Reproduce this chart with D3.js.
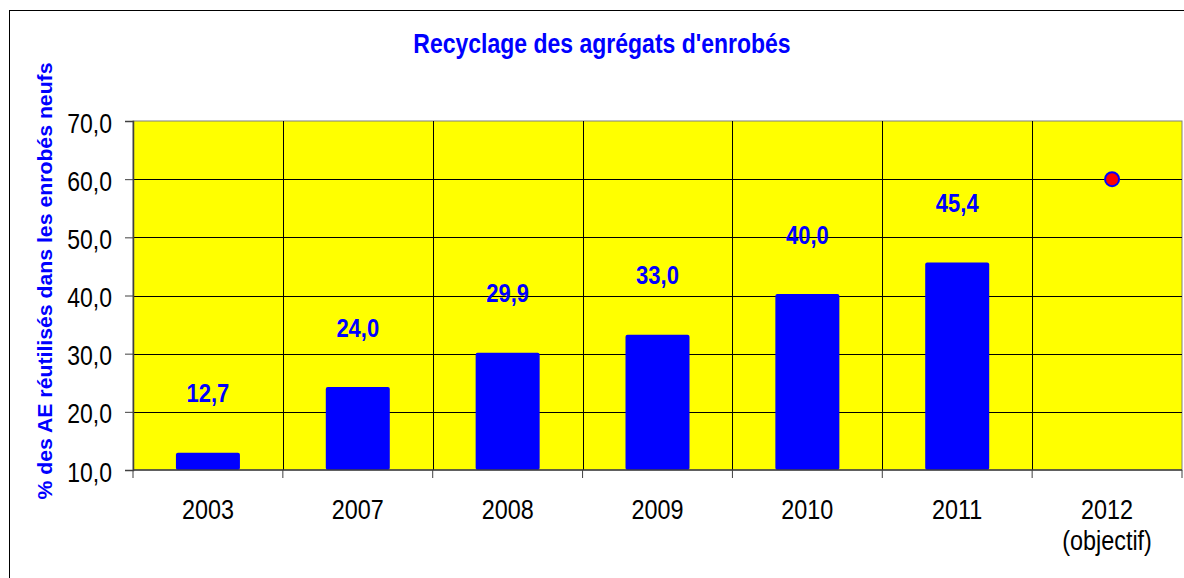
<!DOCTYPE html>
<html>
<head>
<meta charset="utf-8">
<script src="https://cdn.jsdelivr.net/npm/d3@7"></script>
<style>
  body { margin: 0; background: #fff; }
  svg { display: block; font-family: "Liberation Sans", Arial, sans-serif; }
</style>
</head>
<body>
<div id="graph"></div>
<script>
// data
const years = ["2003", "2007", "2008", "2009", "2010", "2011", "2012"];
const subLabels = ["", "", "", "", "", "", "(objectif)"];
const barValues = [12.7, 24.0, 29.9, 33.0, 40.0, 45.4, null];
const targetValue = 60.0;
const yTicks = [10, 20, 30, 40, 50, 60, 70];

const W = 1184, H = 578;
const margin = { top: 121, right: 2, bottom: 108, left: 133 };
const width = W - margin.left - margin.right,
      height = H - margin.top - margin.bottom;

const blue = "#0000ff";
const stretch = 1.2; // the source text looks taller than it is wide
const fmt = v => d3.format(".1f")(v).replace(".", ",");

const svg = d3.select("#graph").append("svg")
    .attr("width", W)
    .attr("height", H);

// outer frame
svg.append("rect")
    .attr("x", 9.5).attr("y", 10.5)
    .attr("width", W).attr("height", H)
    .attr("fill", "none").attr("stroke", "#000");

const x = d3.scaleBand()
    .domain(years)
    .range([0, width]);

const y = d3.scaleLinear()
    .domain([10, 70])
    .range([height, 0]);

const g = svg.append("g")
    .attr("transform", `translate(${margin.left},${margin.top})`);

g.append("rect")
    .attr("width", width).attr("height", height)
    .attr("fill", "#ffff00")
    .attr("stroke", "#808080");

// horizontal grid
g.append("g")
  .selectAll("line")
  .data(yTicks.slice(1, -1))
  .join("line")
    .attr("x1", 0).attr("x2", width)
    .attr("y1", d => Math.round(y(d)) + 0.5)
    .attr("y2", d => Math.round(y(d)) + 0.5)
    .attr("stroke", "#000");

// vertical grid at category boundaries
g.append("g")
  .selectAll("line")
  .data(years.slice(1))
  .join("line")
    .attr("x1", d => Math.round(x(d)) + 0.5)
    .attr("x2", d => Math.round(x(d)) + 0.5)
    .attr("y1", 0).attr("y2", height)
    .attr("stroke", "#000");

// bars
const barW = 64;
const barData = years.map((d, i) => ({ year: d, value: barValues[i] })).filter(d => d.value != null);

g.append("g")
  .selectAll("rect")
  .data(barData)
  .join("rect")
    .attr("x", d => x(d.year) + x.bandwidth() / 2 - barW / 2)
    .attr("y", d => y(d.value) - 1.5)
    .attr("width", barW)
    .attr("height", d => height - y(d.value) + 1.5)
    .attr("rx", 2)
    .attr("fill", blue);

g.append("g")
  .selectAll("text")
  .data(barData)
  .join("text")
    .attr("transform", d => `translate(${x(d.year) + x.bandwidth() / 2},${y(d.value) - 52}) scale(1,${stretch})`)
    .attr("text-anchor", "middle")
    .attr("fill", blue)
    .style("font-size", "22px")
    .style("font-weight", "bold")
    .text(d => fmt(d.value));

// target point
g.append("circle")
    .attr("cx", x("2012") + x.bandwidth() / 2 + 5)
    .attr("cy", y(targetValue))
    .attr("r", 7)
    .attr("fill", "#ff0000")
    .attr("stroke", blue)
    .attr("stroke-width", 2);

// y axis
const yAxis = g.append("g")
    .call(d3.axisLeft(y).tickValues(yTicks).tickFormat(fmt).tickSize(8).tickPadding(13));
yAxis.select(".domain").attr("stroke", "#404040").attr("stroke-width", 1.5);
yAxis.selectAll(".tick line").attr("stroke", "#404040");
yAxis.selectAll("text")
    .attr("dy", "0.4em")
    .attr("transform", `scale(1,${stretch})`)
    .style("font-size", "23px")
    .style("font-family", "'Liberation Sans', Arial, sans-serif")
    .attr("fill", "#000");

// x axis: ticks at band boundaries
const xAxis = g.append("g")
    .attr("transform", `translate(0,${height})`);
xAxis.append("line")
    .attr("x1", 0).attr("x2", width)
    .attr("stroke", "#404040").attr("stroke-width", 1.5);
xAxis.selectAll(".tk")
  .data(years.concat(["end"]))
  .join("line")
    .attr("class", "tk")
    .attr("x1", d => d === "end" ? width : x(d))
    .attr("x2", d => d === "end" ? width : x(d))
    .attr("y1", 0).attr("y2", 8)
    .attr("stroke", "#404040");

xAxis.selectAll(".lbl")
  .data(years)
  .join("text")
    .attr("class", "lbl")
    .attr("transform", d => `translate(${x(d) + x.bandwidth() / 2},49) scale(1,${stretch})`)
    .attr("text-anchor", "middle")
    .style("font-size", "23.4px")
    .attr("fill", "#000")
    .text(d => d);
xAxis.selectAll(".sub")
  .data(years.map((d, i) => ({ year: d, sub: subLabels[i] })).filter(d => d.sub))
  .join("text")
    .attr("class", "sub")
    .attr("transform", d => `translate(${x(d.year) + x.bandwidth() / 2},80) scale(1,${stretch})`)
    .attr("text-anchor", "middle")
    .style("font-size", "23.4px")
    .attr("fill", "#000")
    .text(d => d.sub);

// title
svg.append("text")
    .attr("transform", `translate(602,53) scale(1,${stretch})`)
    .attr("text-anchor", "middle")
    .attr("fill", blue)
    .style("font-size", "23px")
    .style("font-weight", "bold")
    .text("Recyclage des agrégats d'enrobés");

// y axis title
svg.append("text")
    .attr("transform", "translate(52,281) rotate(-90) scale(1.09,1)")
    .attr("text-anchor", "middle")
    .attr("fill", blue)
    .style("font-size", "19.5px")
    .style("font-weight", "bold")
    .text("% des AE réutilisés dans les enrobés neufs");
</script>
</body>
</html>
